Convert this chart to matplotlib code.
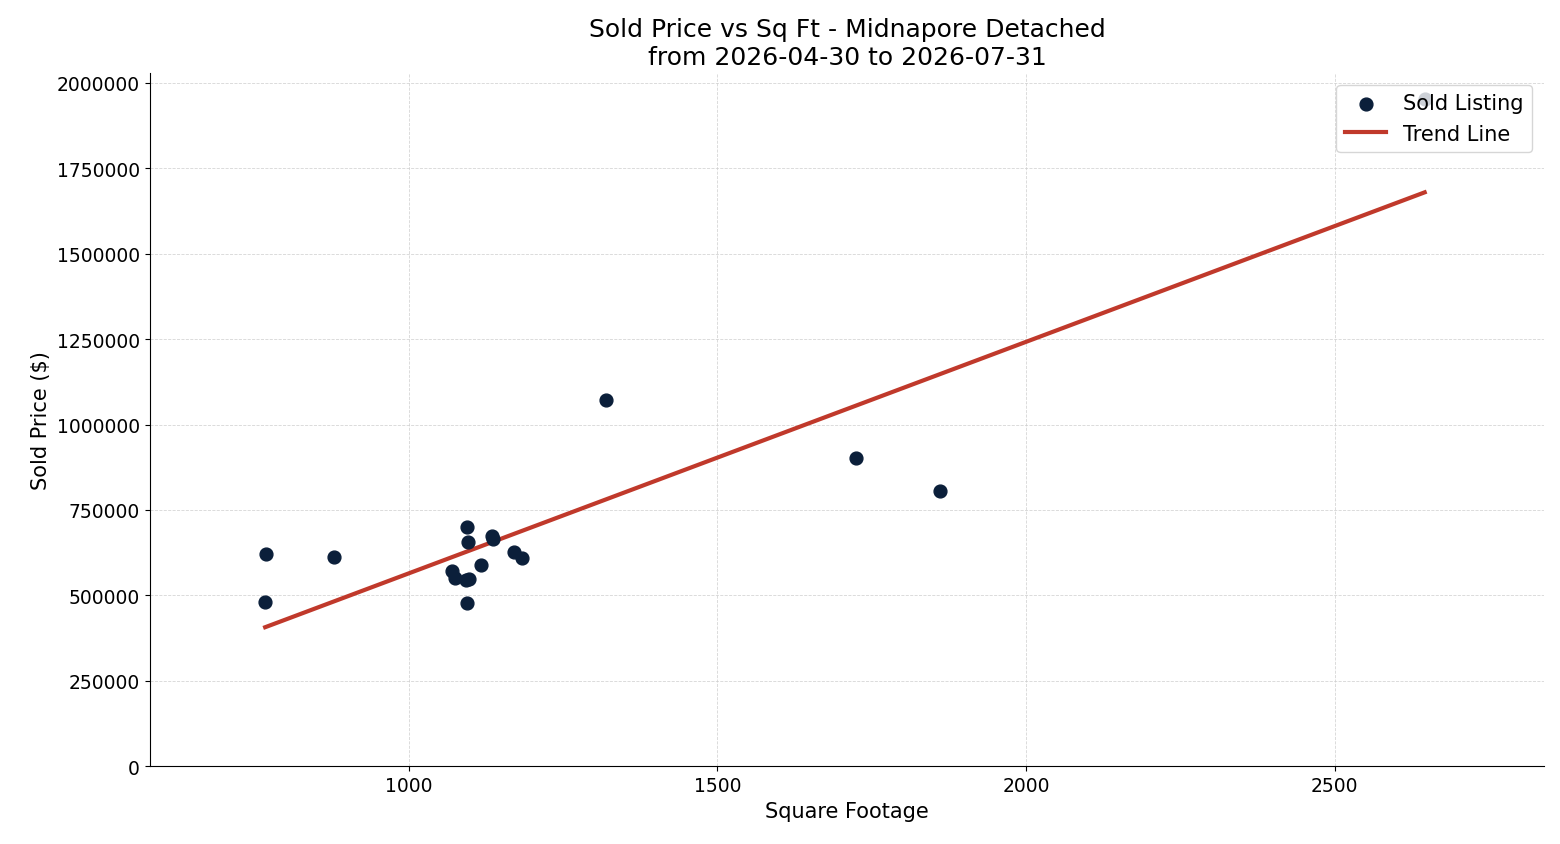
import numpy as np
import matplotlib.pyplot as plt

sqft = [768, 767, 878, 1319, 1725, 1861, 1094, 1095, 1094, 1070, 1074, 1092, 1097, 1117, 1134, 1136, 1170, 1183, 2646]
price = [620000, 480000, 612000, 1072000, 902000, 805000, 700000, 656000, 477000, 571000, 550000, 545000, 548000, 589000, 673000, 665000, 627000, 609000, 1953000]

fig, ax = plt.subplots(figsize=(15.6, 8.45), dpi=100)
ax.scatter(sqft, price, s=85, color='#0b1f3a', label='Sold Listing', zorder=3)
m, b = np.polyfit(sqft, price, 1)
xs = np.array([min(sqft), max(sqft)])
ax.plot(xs, m * xs + b, color='#c0392b', lw=3, label='Trend Line', zorder=2)
ax.set_xlim(580, 2840)
ax.set_ylim(0, 2030000)
ax.set_xticks([1000, 1500, 2000, 2500])
ax.ticklabel_format(style='plain', axis='y')
ax.grid(True, linestyle='--', linewidth=0.6, color='#cccccc', alpha=0.8)
ax.set_axisbelow(True)
for s in ['top', 'right']:
    ax.spines[s].set_visible(False)
ax.set_xlabel('Square Footage', fontsize=15)
ax.set_ylabel('Sold Price ($)', fontsize=15)
ax.set_title('Sold Price vs Sq Ft - Midnapore Detached\nfrom 2026-04-30 to 2026-07-31', fontsize=18)
ax.tick_params(labelsize=13.5)
ax.legend(loc='upper right', fontsize=15, borderaxespad=0.6)
fig.subplots_adjust(left=0.096, right=0.99, top=0.913, bottom=0.092)
fig.savefig('out.png')
